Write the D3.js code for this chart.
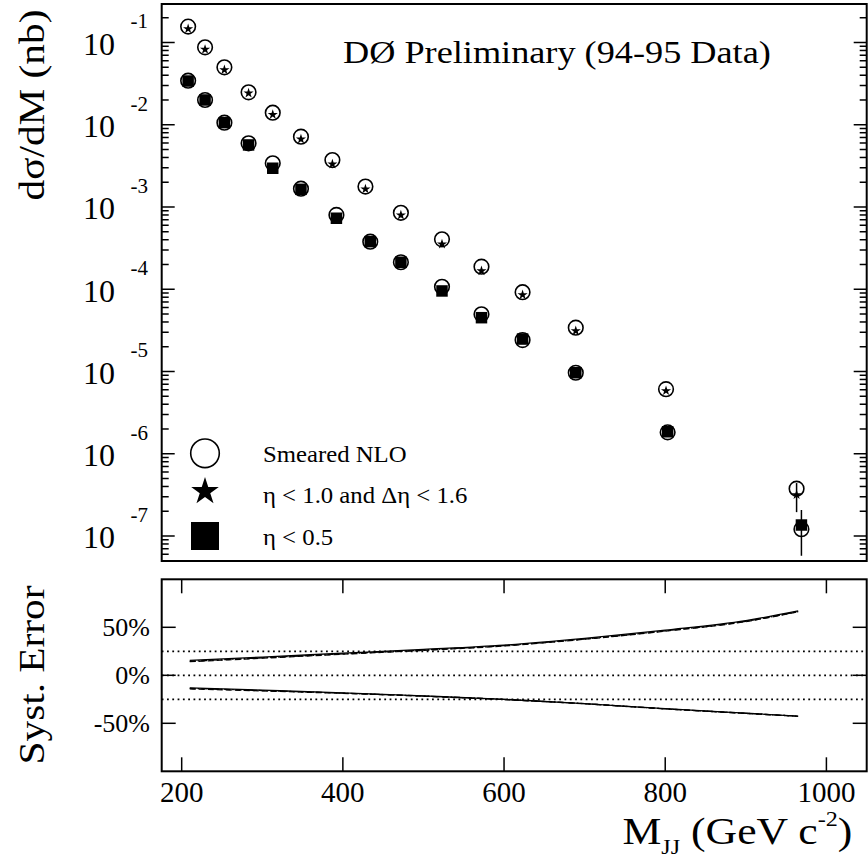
<!DOCTYPE html>
<html>
<head>
<meta charset="utf-8">
<script src="https://cdn.jsdelivr.net/npm/d3@7"></script>
<style>
  body { margin: 0; background: #fff; }
  text { font-family: "Liberation Serif", "Times New Roman", serif; fill: #000; }
</style>
</head>
<body>
<svg class="chart"></svg>
<script>
// bin centres in M_JJ (GeV)
const massStar = [208, 229, 253, 283, 313, 348, 387, 428, 472, 523, 572, 623, 689, 801, 963];
const massSquare = [208, 229, 253, 283, 313, 348, 392, 434, 472, 523, 572, 623, 689, 803, 969];

// d sigma / dM (nb)
const nloStar = [0.156, 0.0874, 0.0499, 0.0248, 0.0140, 0.00716, 0.00372, 0.00177, 8.5e-4, 4.05e-4, 1.88e-4, 9.2e-5, 3.41e-5, 6.1e-6, 3.76e-7];
const dataStar = [0.150, 0.0841, 0.0476, 0.0248, 0.0136, 0.00684, 0.00340, 0.00169, 8.15e-4, 3.62e-4, 1.71e-4, 8.75e-5, 3.19e-5, 5.96e-6, 3.24e-7];
const nloSquare = [0.0343, 0.0200, 0.0106, 0.00594, 0.00340, 0.00167, 8.0e-4, 3.79e-4, 2.13e-4, 1.07e-4, 4.96e-5, 2.41e-5, 9.66e-6, 1.82e-6, 1.21e-7];
const dataSquare = [0.0340, 0.0200, 0.0106, 0.00568, 0.00296, 0.00164, 7.3e-4, 3.79e-4, 2.13e-4, 9.53e-5, 4.51e-5, 2.48e-5, 9.66e-6, 1.85e-6, 1.36e-7];

// stat errors (only the last bin is visible outside the markers)
const starErrUp = [0, 0, 0, 0, 0, 0, 0, 0, 0, 0, 0, 0, 0, 0, 1.16e-7];
const starErrDown = [0, 0, 0, 0, 0, 0, 0, 0, 0, 0, 0, 0, 0, 0, 1.29e-7];
const squareErrUp = [0, 0, 0, 0, 0, 0, 0, 0, 0, 0, 0, 0, 0, 0, 0.71e-7];
const squareErrDown = [0, 0, 0, 0, 0, 0, 0, 0, 0, 0, 0, 0, 0, 0, 0.785e-7];

// systematic error band (%)
const sysMass = [210, 300, 400, 500, 600, 700, 800, 900, 965];
const sysUpSolid = [15.5, 19, 23, 27, 31.5, 38.5, 47, 57, 67];
const sysUpDash = [14.2, 17.8, 22, 26, 30.6, 37.6, 46, 56, 66.2];
const sysUpDashDot = [14.6, 18.2, 22.3, 26.3, 30.9, 37.8, 46.3, 56.3, 66.4];
const sysDownSolid = [-13, -15.5, -18.3, -21.5, -25, -29.5, -34.8, -39.5, -42.5];
const sysDownDash = [-14.2, -16.3, -18.8, -21.8, -25.3, -29.7, -35, -39.7, -42.7];
const sysDownDashDot = [-13.6, -15.9, -18.6, -21.6, -25.1, -29.6, -34.9, -39.6, -42.6];
const refLines = [25, 0, -25];

const xTicks = [200, 400, 600, 800, 1000];
const errTicks = [50, 0, -50];
const errTickLabels = ["50%", "0%", "-50%"];

const legendLabels = ["Smeared NLO", "\u03b7 < 1.0 and \u0394\u03b7 < 1.6", "\u03b7 < 0.5"];

let width = 868,
  height = 861;

let svg = d3.select(".chart").attr("width", width).attr("height", height);

// panel edges
const L = 161.7, R = 866.7;
const topT = 4, topB = 561;
const botT = 579.3, botB = 771.3;

let x = d3.scaleLinear().domain([175.2, 1050]).range([L, R]);
let y = d3.scaleLog().domain([Math.pow(10, -7.304), Math.pow(10, -0.532)]).range([topB, topT]);
let yErr = d3.scaleLinear().domain([-100, 100]).range([botB, botT]);

// ---------- top panel ----------
svg.append("rect")
  .attr("x", L).attr("y", topT).attr("width", R - L).attr("height", topB - topT)
  .attr("fill", "none").attr("stroke", "#000").attr("stroke-width", 2);

let logTicks = d3.range(-8, 1)
  .flatMap(e => d3.range(1, 10).map(k => k * Math.pow(10, e)))
  .filter(v => v >= y.domain()[0] && v <= y.domain()[1]);

function isMajor(v) {
  let l = Math.log10(v);
  return Math.abs(l - Math.round(l)) < 1e-6;
}

let ticksTop = svg.append("g").attr("stroke", "#000").attr("stroke-width", 1.5);
logTicks.forEach(v => {
  let len = isMajor(v) ? 13 : 7;
  ticksTop.append("line").attr("x1", L).attr("x2", L + len).attr("y1", y(v)).attr("y2", y(v));
  ticksTop.append("line").attr("x1", R).attr("x2", R - len).attr("y1", y(v)).attr("y2", y(v));
});

// 10^n labels
logTicks.filter(isMajor).forEach(v => {
  let e = Math.round(Math.log10(v));
  svg.append("text").attr("x", 115).attr("y", y(v) + 12.5)
    .attr("text-anchor", "end").style("font-size", "32px").text("10");
  svg.append("text").attr("x", 148).attr("y", y(v) - 14)
    .attr("text-anchor", "end").style("font-size", "21px").text(e);
});

// y title
svg.append("text")
  .attr("transform", "translate(44,105) rotate(-90) scale(1.18,1)")
  .attr("text-anchor", "middle").style("font-size", "35px")
  .text("d\u03c3/dM (nb)");

// header
svg.append("text")
  .attr("transform", "translate(343,63.3) scale(1.17,1)")
  .style("font-size", "31px")
  .text("D\u00d8 Preliminary (94-95 Data)");

// smeared NLO circles
svg.selectAll(".nloStar").data(massStar).enter().append("circle")
  .attr("cx", (d, i) => x(d)).attr("cy", (d, i) => y(nloStar[i])).attr("r", 7.3)
  .attr("fill", "none").attr("stroke", "#000").attr("stroke-width", 1.6);
svg.selectAll(".nloSquare").data(massSquare).enter().append("circle")
  .attr("cx", (d, i) => x(d)).attr("cy", (d, i) => y(nloSquare[i])).attr("r", 7.3)
  .attr("fill", "none").attr("stroke", "#000").attr("stroke-width", 1.6);

// error bars
svg.selectAll(".errStar").data(massStar.filter((d, i) => starErrUp[i] > 0 || starErrDown[i] > 0)).enter()
  .append("line")
  .attr("x1", d => x(d)).attr("x2", d => x(d))
  .attr("y1", d => { let i = massStar.indexOf(d); return y(dataStar[i] + starErrUp[i]); })
  .attr("y2", d => { let i = massStar.indexOf(d); return y(dataStar[i] - starErrDown[i]); })
  .attr("stroke", "#000").attr("stroke-width", 1.5);
svg.selectAll(".errSquare").data(massSquare.filter((d, i) => squareErrUp[i] > 0 || squareErrDown[i] > 0)).enter()
  .append("line")
  .attr("x1", d => x(d)).attr("x2", d => x(d))
  .attr("y1", d => { let i = massSquare.indexOf(d); return y(dataSquare[i] + squareErrUp[i]); })
  .attr("y2", d => { let i = massSquare.indexOf(d); return y(dataSquare[i] - squareErrDown[i]); })
  .attr("stroke", "#000").attr("stroke-width", 1.5);

// data markers
let star = d3.symbol().type(d3.symbolStar).size(32);
let square = d3.symbol().type(d3.symbolSquare).size(132);
svg.selectAll(".star").data(massStar).enter().append("path")
  .attr("d", star)
  .attr("transform", (d, i) => `translate(${x(d)},${y(dataStar[i]) + 0.8})`)
  .attr("fill", "#000");
svg.selectAll(".square").data(massSquare).enter().append("path")
  .attr("d", square)
  .attr("transform", (d, i) => `translate(${x(d)},${y(dataSquare[i])})`)
  .attr("fill", "#000");

// legend
let legY = [453.3, 491.5, 536];
let lg = svg.append("g");
lg.append("circle").attr("cx", 205).attr("cy", legY[0]).attr("r", 14.3)
  .attr("fill", "none").attr("stroke", "#000").attr("stroke-width", 1.6);
lg.append("path").attr("d", d3.symbol().type(d3.symbolStar).size(236))
  .attr("transform", `translate(205,${legY[1]})`).attr("fill", "#000");
lg.append("path").attr("d", d3.symbol().type(d3.symbolSquare).size(784))
  .attr("transform", `translate(205,${legY[2]})`).attr("fill", "#000");
let legBase = [461.7, 502.7, 545];
legendLabels.forEach((t, i) => {
  lg.append("text")
    .attr("transform", `translate(263,${legBase[i]}) scale(1.1,1)`)
    .style("font-size", "22.5px").text(t);
});

// ---------- bottom panel ----------
svg.append("rect")
  .attr("x", L).attr("y", botT).attr("width", R - L).attr("height", botB - botT)
  .attr("fill", "none").attr("stroke", "#000").attr("stroke-width", 2);

let ticksBot = svg.append("g").attr("stroke", "#000").attr("stroke-width", 1.5);
xTicks.forEach(v => {
  ticksBot.append("line").attr("x1", x(v)).attr("x2", x(v)).attr("y1", botT).attr("y2", botT + 14);
  ticksBot.append("line").attr("x1", x(v)).attr("x2", x(v)).attr("y1", botB).attr("y2", botB - 14);
});
errTicks.forEach(v => {
  ticksBot.append("line").attr("x1", L).attr("x2", L + 14).attr("y1", yErr(v)).attr("y2", yErr(v));
  ticksBot.append("line").attr("x1", R).attr("x2", R - 14).attr("y1", yErr(v)).attr("y2", yErr(v));
});

svg.selectAll(".xlab").data(xTicks).enter().append("text")
  .attr("x", d => x(d)).attr("y", 801.7).attr("text-anchor", "middle")
  .style("font-size", "29px").text(d => d);

svg.selectAll(".elab").data(errTicks).enter().append("text")
  .attr("x", 150).attr("y", d => yErr(d) + 9).attr("text-anchor", "end")
  .style("font-size", "26px").text((d, i) => errTickLabels[i]);

// dotted reference lines
svg.selectAll(".ref").data(refLines).enter().append("line")
  .attr("x1", L).attr("x2", R).attr("y1", d => yErr(d)).attr("y2", d => yErr(d))
  .attr("stroke", "#000").attr("stroke-width", 1.8).attr("stroke-dasharray", "1.8,3.5");

let line = d3.line().x(d => x(d[0])).y(d => yErr(d[1])).curve(d3.curveMonotoneX);
let curves = [
  [sysUpSolid, null], [sysUpDash, "6,3"], [sysUpDashDot, "6,2,1.5,2"],
  [sysDownSolid, null], [sysDownDash, "6,3"], [sysDownDashDot, "6,2,1.5,2"]
];
curves.forEach(c => {
  svg.append("path")
    .attr("d", line(sysMass.map((m, i) => [m, c[0][i]])))
    .attr("fill", "none").attr("stroke", "#000").attr("stroke-width", 1.3)
    .attr("stroke-dasharray", c[1]);
});

svg.append("text")
  .attr("transform", "translate(44,675) rotate(-90) scale(1.18,1)")
  .attr("text-anchor", "middle").style("font-size", "35px")
  .text("Syst. Error");

// x title
let xt = svg.append("text")
  .attr("transform", "translate(622.5,844) scale(1.15,1)")
  .style("font-size", "38px");
xt.append("tspan").text("M");
xt.append("tspan").attr("dy", 10).style("font-size", "21px").text("JJ");
xt.append("tspan").attr("dy", -10).text(" (GeV c");
xt.append("tspan").attr("dy", -18).style("font-size", "21px").text("-2");
xt.append("tspan").attr("dy", 18).text(")");
</script>
</body>
</html>
